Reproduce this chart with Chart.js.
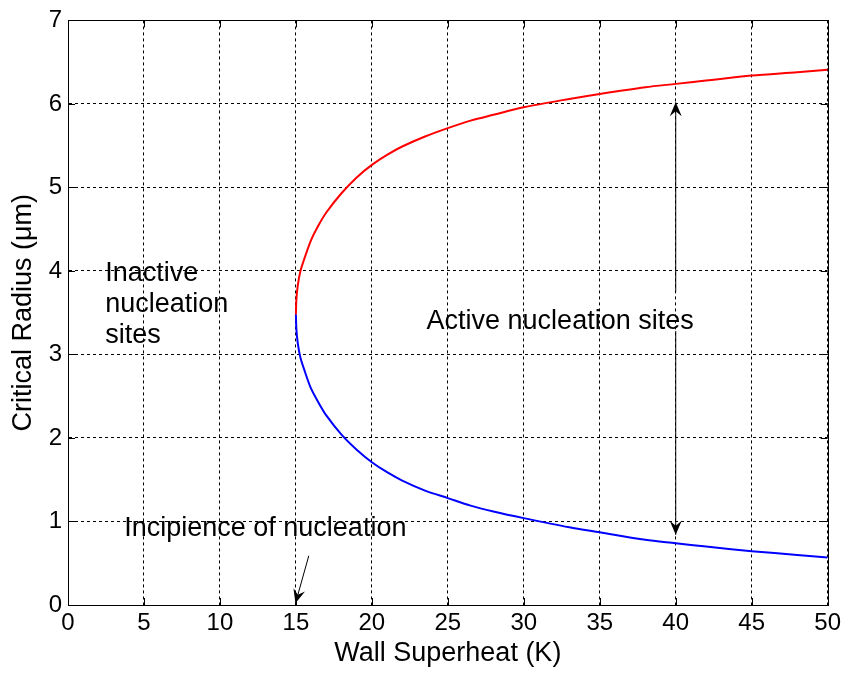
<!DOCTYPE html>
<html>
<head>
<meta charset="utf-8">
<script src="https://cdn.jsdelivr.net/npm/chart.js@4.4.0/dist/chart.umd.min.js"></script>
<style>
  html, body { margin: 0; padding: 0; background: #fff; }
</style>
</head>
<body>
<canvas id="cht" width="845" height="673"></canvas>
<script>
// axis ticks
const xTicks = [0, 5, 10, 15, 20, 25, 30, 35, 40, 45, 50];
const yTicks = [0, 1, 2, 3, 4, 5, 6, 7];

// upper branch (max active radius), um vs K
const upperX = [15, 15.03, 15.12, 15.3, 15.6, 16, 16.5, 17, 18, 19, 20, 21, 22, 23.5, 25, 26.5, 28, 30, 33, 35, 38, 40, 42, 45, 48, 50];
const upperY = [3.48, 3.65, 3.82, 4.0, 4.17, 4.37, 4.55, 4.7, 4.93, 5.12, 5.27, 5.39, 5.49, 5.61, 5.71, 5.8, 5.87, 5.96, 6.06, 6.12, 6.2, 6.24, 6.28, 6.34, 6.38, 6.41];

// lower branch (min active radius)
const lowerX = [15, 15.03, 15.12, 15.3, 15.6, 16, 16.5, 17, 18, 19, 20, 21, 22, 23.5, 25, 26.5, 28, 30, 33, 35, 38, 40, 42, 45, 48, 50];
const lowerY = [3.48, 3.31, 3.14, 2.96, 2.79, 2.59, 2.42, 2.27, 2.04, 1.86, 1.71, 1.59, 1.49, 1.37, 1.28, 1.19, 1.12, 1.04, 0.93, 0.87, 0.78, 0.74, 0.7, 0.645, 0.6, 0.57];

const FONT = "'Liberation Sans', Arial, sans-serif";

function toPoints(xs, ys) {
    return xs.map((x, i) => ({ x: x, y: ys[i] }));
}

// text + arrows placed in data units
const notes = [
    { lines: ['Inactive', 'nucleation', 'sites'], x: 2.45, y: 3.88, lh: 31 },
    { lines: ['Active nucleation sites'], x: 23.6, y: 3.3, lh: 31 },
    { lines: ['Incipience of nucleation'], x: 3.7, y: 0.83, lh: 31 }
];
const arrows = [
    { from: [40, 3.75], to: [40, 6.02] },
    { from: [40, 3.28], to: [40, 0.84] },
    { from: [15.85, 0.59], to: [14.97, 0.02] }
];

function arrowHead(ctx, x1, y1, x2, y2) {
    const ang = Math.atan2(y2 - y1, x2 - x1);
    const len = 14, half = 6, notch = 9;
    ctx.save();
    ctx.translate(x2, y2);
    ctx.rotate(ang);
    ctx.beginPath();
    ctx.moveTo(0, 0);
    ctx.lineTo(-len, -half);
    ctx.lineTo(-notch, 0);
    ctx.lineTo(-len, half);
    ctx.closePath();
    ctx.fill();
    ctx.restore();
}

const frame = {
    id: 'frame',
    afterDatasetsDraw(chart) {
        const { ctx, chartArea: a, scales: { x, y } } = chart;
        ctx.save();
        ctx.strokeStyle = '#000';
        ctx.lineWidth = 1;
        ctx.setLineDash([]);
        // inward tick marks on all four sides
        ctx.beginPath();
        xTicks.forEach(v => {
            const px = Math.round(x.getPixelForValue(v)) + 0.5;
            ctx.moveTo(px, a.bottom); ctx.lineTo(px, a.bottom - 7);
            ctx.moveTo(px, a.top); ctx.lineTo(px, a.top + 7);
        });
        yTicks.forEach(v => {
            const py = Math.round(y.getPixelForValue(v)) + 0.5;
            ctx.moveTo(a.left, py); ctx.lineTo(a.left + 7, py);
            ctx.moveTo(a.right, py); ctx.lineTo(a.right - 7, py);
        });
        ctx.stroke();
        ctx.strokeRect(Math.round(a.left) + 0.5, Math.round(a.top) + 0.5,
            Math.round(a.right - a.left), Math.round(a.bottom - a.top));
        ctx.restore();
    },
    afterDraw(chart) {
        const { ctx, scales: { x, y } } = chart;
        ctx.save();
        ctx.fillStyle = '#000';
        ctx.strokeStyle = '#000';
        ctx.font = '27px ' + FONT;
        ctx.textBaseline = 'alphabetic';
        ctx.textAlign = 'left';
        notes.forEach(n => {
            const px = x.getPixelForValue(n.x), py = y.getPixelForValue(n.y);
            n.lines.forEach((t, i) => ctx.fillText(t, px, py + i * n.lh));
        });
        ctx.lineWidth = 1;
        arrows.forEach(ar => {
            const x1 = x.getPixelForValue(ar.from[0]), y1 = y.getPixelForValue(ar.from[1]);
            const x2 = x.getPixelForValue(ar.to[0]), y2 = y.getPixelForValue(ar.to[1]);
            ctx.beginPath();
            ctx.moveTo(x1, y1);
            ctx.lineTo(x2, y2);
            ctx.stroke();
            arrowHead(ctx, x1, y1, x2, y2);
        });
        ctx.restore();
    }
};

const gridOpts = {
    color: '#000',
    lineWidth: 1,
    drawTicks: false
};

const chart = new Chart(document.getElementById('cht'), {
    type: 'scatter',
    data: {
        datasets: [
            {
                label: 'upper',
                data: toPoints(upperX, upperY),
                showLine: true,
                borderColor: '#ff0000',
                borderWidth: 2,
                pointRadius: 0,
                tension: 0.3
            },
            {
                label: 'lower',
                data: toPoints(lowerX, lowerY),
                showLine: true,
                borderColor: '#0000ff',
                borderWidth: 2,
                pointRadius: 0,
                tension: 0.3
            }
        ]
    },
    options: {
        responsive: false,
        animation: false,
        layout: { padding: { left: 0, right: 16, top: 20, bottom: 0 } },
        plugins: {
            legend: { display: false },
            tooltip: { enabled: false }
        },
        scales: {
            x: {
                type: 'linear',
                min: 0,
                max: 50,
                afterBuildTicks: s => { s.ticks = xTicks.map(v => ({ value: v })); },
                afterFit: s => { s.height = 68; },
                grid: gridOpts,
                border: { display: true, color: '#000', dash: [3, 3] },
                ticks: { color: '#000', padding: 4, font: { family: FONT, size: 24 }, maxRotation: 0 },
                title: {
                    display: true,
                    text: 'Wall Superheat (K)',
                    color: '#000',
                    font: { family: FONT, size: 27 },
                    padding: { top: 0, bottom: 3 }
                }
            },
            y: {
                type: 'linear',
                min: 0,
                max: 7,
                afterBuildTicks: s => { s.ticks = yTicks.map(v => ({ value: v })); },
                afterFit: s => { s.width = 68; },
                grid: gridOpts,
                border: { display: true, color: '#000', dash: [3, 3] },
                ticks: { color: '#000', padding: 6, font: { family: FONT, size: 24 } },
                title: {
                    display: true,
                    text: 'Critical Radius (μm)',
                    color: '#000',
                    font: { family: FONT, size: 27 },
                    padding: { top: 7, bottom: 0 }
                }
            }
        }
    },
    plugins: [frame]
});
</script>
</body>
</html>
